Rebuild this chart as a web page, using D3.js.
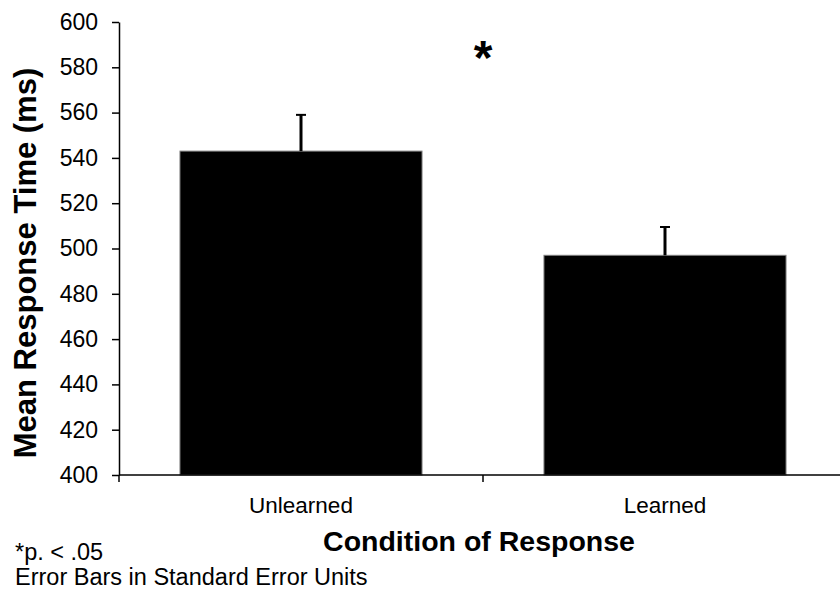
<!DOCTYPE html>
<html><head><meta charset="utf-8">
<script src="https://cdn.jsdelivr.net/npm/d3@7"></script>
<style>body{margin:0;background:#fff}svg{display:block}text{font-family:"Liberation Sans",Arial,sans-serif}</style>
</head><body>
<svg id="c" width="840" height="597"></svg>
<script>
const categories = ["Unlearned", "Learned"];
const means = [543, 497];
const stdErrors = [16, 12.5];
const yTicks = [400, 420, 440, 460, 480, 500, 520, 540, 560, 580, 600];

const svg = d3.select("#c");
const x0 = 119, x1 = 847, yTop = 22, yBot = 475;
const x = d3.scaleBand().domain(categories).range([x0, x1]).paddingInner(0.335).paddingOuter(0.1675);
const y = d3.scaleLinear().domain([400, 600]).range([yBot, yTop]);

// bars
svg.selectAll("rect.bar").data(categories).enter().append("rect")
  .attr("x", d => x(d)).attr("width", x.bandwidth())
  .attr("y", (d, i) => y(means[i])).attr("height", (d, i) => yBot - y(means[i]))
  .attr("fill", "#000").attr("stroke", "#808080").attr("stroke-width", 1);

// error bars (upper)
const eb = svg.selectAll("g.eb").data(categories).enter().append("g");
eb.append("line")
  .attr("x1", d => x(d) + x.bandwidth() / 2).attr("x2", d => x(d) + x.bandwidth() / 2)
  .attr("y1", (d, i) => y(means[i])).attr("y2", (d, i) => y(means[i] + stdErrors[i]))
  .attr("stroke", "#000").attr("stroke-width", 3);
eb.append("line")
  .attr("x1", d => x(d) + x.bandwidth() / 2 - 5).attr("x2", d => x(d) + x.bandwidth() / 2 + 5)
  .attr("y1", (d, i) => y(means[i] + stdErrors[i])).attr("y2", (d, i) => y(means[i] + stdErrors[i]))
  .attr("stroke", "#000").attr("stroke-width", 2);

// y axis
const ya = svg.append("g").attr("transform", `translate(${x0},0)`)
  .call(d3.axisLeft(y).tickValues(yTicks).tickSize(7).tickPadding(14).tickSizeOuter(0));
ya.select(".domain").attr("stroke", "#000").attr("stroke-width", 1.5);
ya.selectAll(".tick line").attr("stroke", "#000").attr("stroke-width", 1.5);
ya.selectAll(".tick text").attr("font-size", 23).attr("fill", "#000")
  .attr("font-family", "'Liberation Sans', Arial, sans-serif");

// x axis
const xa = svg.append("g").attr("transform", `translate(0,${yBot})`);
xa.append("line").attr("x1", x0).attr("x2", x1).attr("y1", 0).attr("y2", 0)
  .attr("stroke", "#000").attr("stroke-width", 1.5);
const bounds = [x0, x0 + (x1 - x0) / 2, x1];
xa.selectAll("line.t").data(bounds).enter().append("line")
  .attr("x1", d => d).attr("x2", d => d).attr("y1", 0).attr("y2", 7)
  .attr("stroke", "#000").attr("stroke-width", 1.5);
xa.selectAll("text.cat").data(categories).enter().append("text")
  .attr("x", d => x(d) + x.bandwidth() / 2).attr("y", 38)
  .attr("text-anchor", "middle").attr("font-size", 22.5).text(d => d);

// titles
svg.append("text").attr("transform", "translate(36,263) rotate(-90)")
  .attr("text-anchor", "middle").attr("font-size", 31).attr("font-weight", "bold")
  .text("Mean Response Time (ms)");
svg.append("text").attr("x", 479).attr("y", 551).attr("text-anchor", "middle")
  .attr("font-size", 28.5).attr("font-weight", "bold").text("Condition of Response");

// significance star
svg.append("text").attr("x", 483).attr("y", 74).attr("text-anchor", "middle")
  .attr("font-size", 48).attr("font-weight", "bold").text("*");

// footnotes
svg.append("text").attr("x", 15).attr("y", 560).attr("font-size", 23.5).text("*p. < .05");
svg.append("text").attr("x", 15).attr("y", 585).attr("font-size", 23.5).text("Error Bars in Standard Error Units");
</script>
</body></html>
